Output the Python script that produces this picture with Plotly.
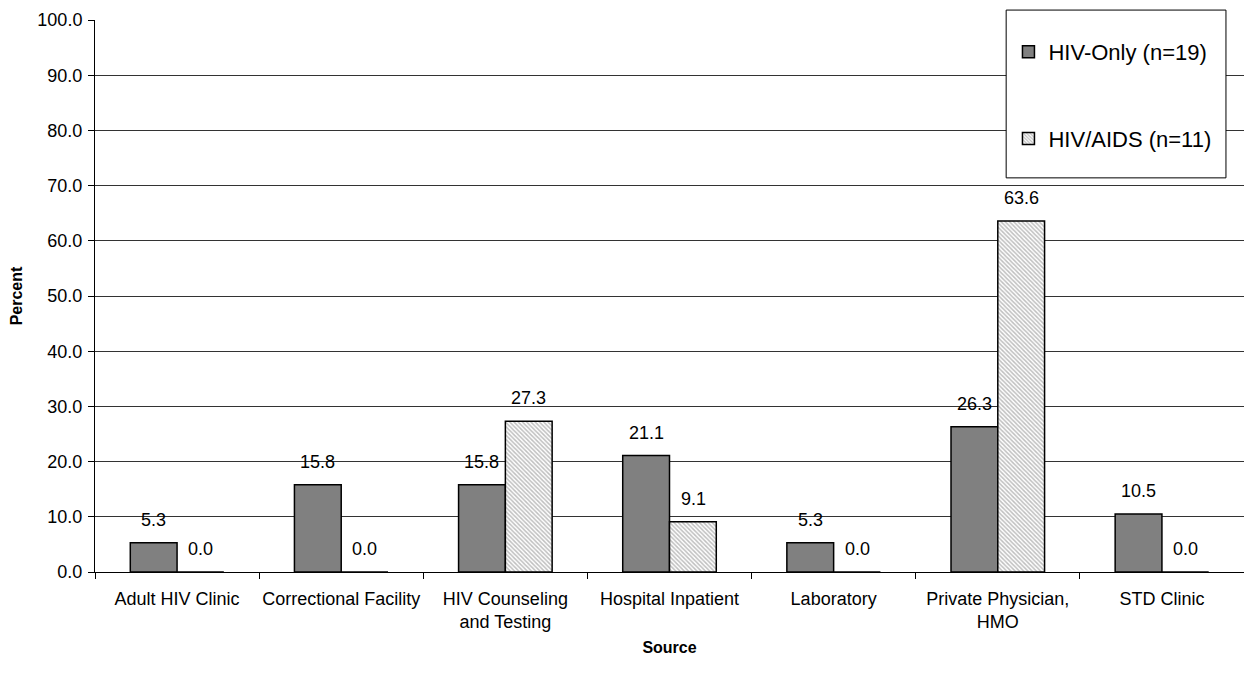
import plotly.graph_objects as go

categories = ["Adult HIV Clinic", "Correctional Facility", "HIV Counseling<br>and Testing",
              "Hospital Inpatient", "Laboratory", "Private Physician,<br>HMO", "STD Clinic"]
hiv_only = [5.3, 15.8, 15.8, 21.1, 5.3, 26.3, 10.5]
hiv_aids = [0.0, 0.0, 27.3, 9.1, 0.0, 63.6, 0.0]
series_names = ["HIV-Only (n=19)", "HIV/AIDS (n=11)"]
y_ticks = [0, 10, 20, 30, 40, 50, 60, 70, 80, 90, 100]

FONT = "Liberation Sans, Arial, sans-serif"

fig = go.Figure()
fig.add_trace(go.Bar(
    x=categories, y=hiv_only, name=series_names[0],
    marker=dict(color="#808080", line=dict(color="black", width=1.5)),
    legendgroup="a",
))
fig.add_trace(go.Bar(
    x=categories, y=hiv_aids, name=series_names[1],
    marker=dict(color="white", line=dict(color="black", width=1.5),
                pattern=dict(shape="\\", fgcolor="#808080", bgcolor="white",
                             size=3, solidity=0.5)),
    legendgroup="b",
))

# value labels above each bar
for vals, shift in ((hiv_only, -23.5), (hiv_aids, 23.5)):
    for cat, v in zip(categories, vals):
        fig.add_annotation(x=cat, y=v, text=f"{v:.1f}", showarrow=False,
                           xshift=shift, yshift=23, xref="x", yref="y",
                           font=dict(family=FONT, size=18, color="black"))

# legend frame
fig.add_shape(type="rect", xref="paper", yref="paper",
              x0=0.793, x1=0.9843, y0=0.714, y1=1.018,
              line=dict(color="black", width=1), fillcolor="white", layer="above")

fig.update_layout(
    width=1244, height=674,
    margin=dict(l=95, r=0, t=20, b=102, autoexpand=False),
    paper_bgcolor="white", plot_bgcolor="white",
    barmode="group", bargap=0.43, bargroupgap=0,
    font=dict(family=FONT, size=18, color="black"),
    showlegend=True,
    legend=dict(x=0.795, y=0.98, xanchor="left", yanchor="top",
                bgcolor="rgba(0,0,0,0)", borderwidth=0,
                font=dict(family=FONT, size=22, color="black"),
                tracegroupgap=55, itemwidth=30),
    xaxis=dict(
        type="category", showline=True, linecolor="black", linewidth=1,
        ticks="outside", tickson="boundaries", ticklen=6, tickcolor="black",
        showgrid=False, tickangle=0, automargin=False, ticklabelstandoff=10,
        title=dict(text="<b>Source</b>", font=dict(size=16), standoff=10),
        tickfont=dict(size=18),
    ),
    yaxis=dict(
        range=[0, 100], tickvals=y_ticks, tickformat=".1f",
        showline=True, linecolor="black", linewidth=1,
        ticks="outside", ticklen=6, tickcolor="black", automargin=False,
        ticklabelstandoff=2,
        showgrid=True, gridcolor="#333333", gridwidth=1,
        title=dict(text="<b>Percent</b>", font=dict(size=16), standoff=10),
        tickfont=dict(size=18),
    ),
)

fig.write_html("out.html")
